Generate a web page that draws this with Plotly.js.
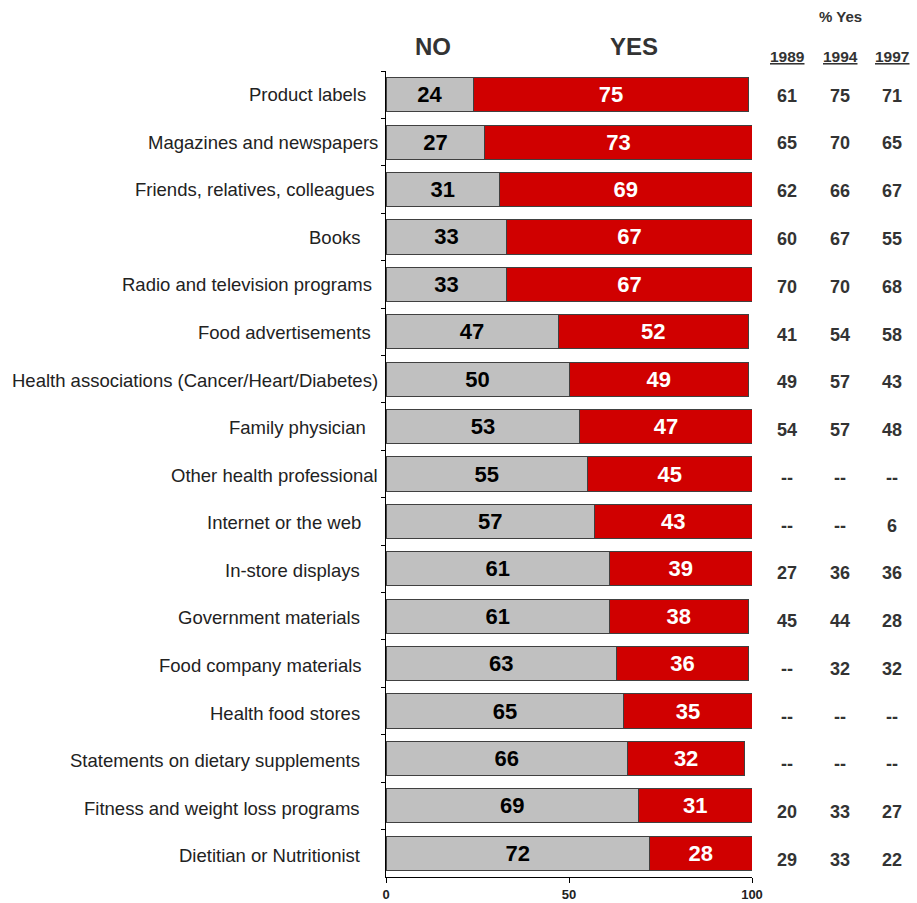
<!DOCTYPE html>
<html><head><meta charset="utf-8">
<script src="https://cdn.plot.ly/plotly-3.0.1.min.js"></script>
<style>body{margin:0;background:#fff}#c{width:917px;height:903px}</style>
</head><body><div id="c"></div>
<script>
const categories = ["Product labels","Magazines and newspapers","Friends, relatives, colleagues","Books","Radio and television programs","Food advertisements","Health associations (Cancer/Heart/Diabetes)","Family physician","Other health professional","Internet or the web","In-store displays","Government materials","Food company materials","Health food stores","Statements on dietary supplements","Fitness and weight loss programs","Dietitian or Nutritionist"];
const noValues  = [24,27,31,33,33,47,50,53,55,57,61,61,63,65,66,69,72];
const yesValues = [75,73,69,67,67,52,49,47,45,43,39,38,36,35,32,31,28];
const years = ["1989","1994","1997"];
const yes1989 = ["61","65","62","60","70","41","49","54","--","--","27","45","--","--","--","20","29"];
const yes1994 = ["75","70","66","67","70","54","57","57","--","--","36","44","32","--","--","33","33"];
const yes1997 = ["71","65","67","55","68","58","43","48","--","6","36","28","32","--","--","27","22"];
const xTicks = [0,50,100];

// layout-only: pixel gap between each category label's right edge and the axis
const labelGap = [18,6,9,24,12,13,6,18,6,23,24,24,22,24,24,24,24];

const FONT = "Liberation Sans, Arial, sans-serif";
const barLine = {color:"#404040", width:1};

const traces = [
  {type:"bar", orientation:"h", name:"NO", y:categories, x:noValues,
   marker:{color:"#c0c0c0", line:barLine},
   text:noValues.map(String), textposition:"inside", insidetextanchor:"middle",
   textangle:0, constraintext:"none",
   textfont:{family:FONT, size:22, color:"#000", weight:"bold"}, hoverinfo:"none"},
  {type:"bar", orientation:"h", name:"YES", y:categories, x:yesValues,
   marker:{color:"#d00000", line:barLine},
   text:yesValues.map(String), textposition:"inside", insidetextanchor:"middle",
   textangle:0, constraintext:"none",
   textfont:{family:FONT, size:22, color:"#fff", weight:"bold"}, hoverinfo:"none"}
];

const cols = [yes1989, yes1994, yes1997];
const colX = [787, 840, 892];
const annotations = [];
categories.forEach((c, i) => {
  annotations.push({xref:"paper", yref:"y", x:0, y:c, xanchor:"right", xshift:-labelGap[i],
    yshift:-i*0.15, text:c, showarrow:false,
    font:{family:FONT, size:18.5, color:"#222"}});
});
cols.forEach((col, ci) => {
  col.forEach((v, i) => {
    annotations.push({xref:"paper", yref:"y", x:(colX[ci]-386)/366, y:categories[i], yshift:-1 - i*0.35,
      text:v, showarrow:false, xanchor:"center",
      font:{family:FONT, size:18, color:"#333", weight:"bold"}});
  });
  annotations.push({xref:"paper", yref:"paper", x:(colX[ci]-386)/366, y:(877-56)/806,
    text:"<u>"+years[ci]+"</u>", showarrow:false, xanchor:"center", yanchor:"middle",
    font:{family:FONT, size:15.5, color:"#333", weight:"bold"}});
});
annotations.push({xref:"paper", yref:"paper", x:(840-386)/366, y:(877-17)/806,
  text:"% Yes", showarrow:false, xanchor:"center", yanchor:"middle",
  font:{family:FONT, size:15, color:"#333", weight:"bold"}});
annotations.push({xref:"paper", yref:"paper", x:(433-386)/366, y:(877-46)/806,
  text:"NO", showarrow:false, xanchor:"center", yanchor:"middle",
  font:{family:FONT, size:24, color:"#333", weight:"bold"}});
annotations.push({xref:"paper", yref:"paper", x:(634-386)/366, y:(877-46)/806,
  text:"YES", showarrow:false, xanchor:"center", yanchor:"middle",
  font:{family:FONT, size:24, color:"#333", weight:"bold"}});

const layout = {
  width:917, height:903,
  margin:{l:386, r:165, t:71, b:26, pad:0},
  barmode:"stack", bargap:0.28,
  showlegend:false,
  paper_bgcolor:"#fff", plot_bgcolor:"#fff",
  font:{family:FONT, color:"#222"},
  xaxis:{range:[0,100], tickvals:xTicks, ticktext:xTicks.map(String),
    showgrid:false, zeroline:false, showline:true, linecolor:"#000", linewidth:1,
    ticks:"outside", ticklen:5, tickcolor:"#000",
    tickfont:{family:FONT, size:13, color:"#222", weight:"bold"}, fixedrange:true},
  yaxis:{type:"category", autorange:"reversed", showgrid:false, zeroline:false,
    showline:true, linecolor:"#000", linewidth:1, ticks:"outside", ticklen:4, tickcolor:"#000",
    tickson:"boundaries", showticklabels:false, fixedrange:true},
  annotations:annotations
};
Plotly.newPlot("c", traces, layout, {displayModeBar:false, staticPlot:true});
</script>
</body></html>
